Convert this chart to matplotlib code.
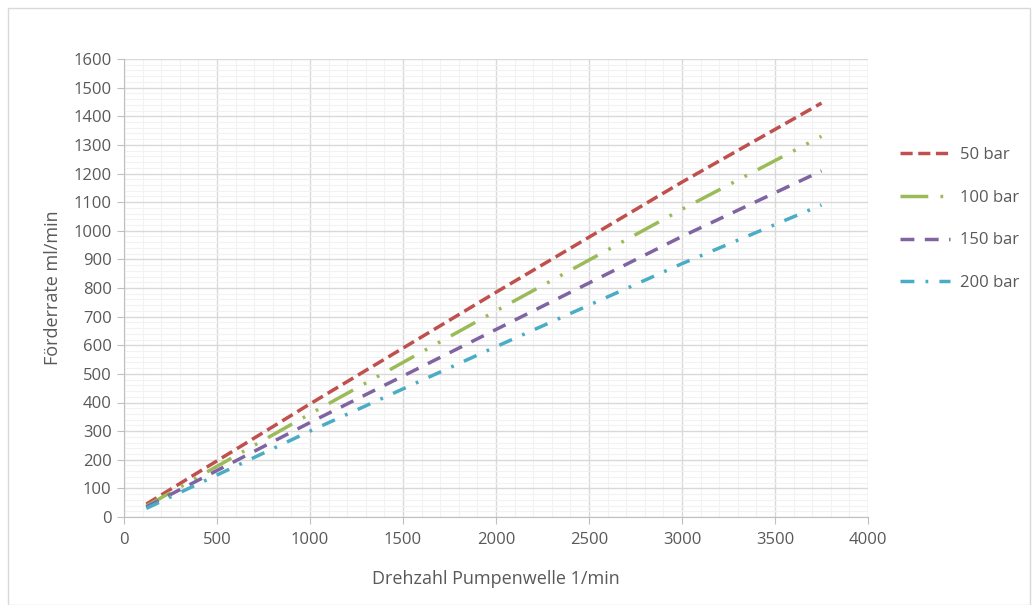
import matplotlib.pyplot as plt
from matplotlib.ticker import MultipleLocator
from matplotlib.patches import Rectangle

# Drehzahl (1/min) and Förderrate (ml/min)
drehzahl = [120, 1000, 2000, 3000, 3750]
bar50 = [45, 395, 785, 1170, 1446]
bar100 = [38, 360, 720, 1075, 1330]
bar150 = [35, 330, 655, 980, 1209]
bar200 = [30, 300, 595, 885, 1090]
labels = ['50 bar', '100 bar', '150 bar', '200 bar']

colors = ['#C0504D', '#9BBB59', '#8064A2', '#4BACC6']
styles = [(0, (3.5, 1.6)), (0, (8, 3.5, 0.8, 3.5, 0.8, 3.5)), (0, (4, 3)), (0, (4, 3.2, 0.8, 3.2))]

plt.rcParams['font.family'] = ['Open Sans', 'DejaVu Sans']
txt = '#595959'

fig = plt.figure(figsize=(10.32, 6.05), dpi=100)
ax = fig.add_axes([124/1032, 1-517/605, (868-124)/1032, (517-59)/605])

for ys, lab, c, ls in zip([bar50, bar100, bar150, bar200], labels, colors, styles):
    ax.plot(drehzahl, ys, color=c, linestyle=ls, linewidth=2.5, label=lab,
            dash_capstyle='butt')

ax.set_xlim(0, 4000)
ax.set_ylim(0, 1600)
ax.xaxis.set_major_locator(MultipleLocator(500))
ax.xaxis.set_minor_locator(MultipleLocator(100))
ax.yaxis.set_major_locator(MultipleLocator(100))
ax.yaxis.set_minor_locator(MultipleLocator(20))
ax.grid(which='major', color='#D9D9D9', linewidth=1)
ax.grid(which='minor', color='#F2F2F2', linewidth=0.8)
ax.set_axisbelow(True)
for s in ['top', 'right']:
    ax.spines[s].set_visible(False)
for s in ['left', 'bottom']:
    ax.spines[s].set_color('#BFBFBF')
ax.tick_params(which='major', colors='#BFBFBF', labelcolor=txt, labelsize=12, length=5)
ax.tick_params(which='minor', length=0)
ax.tick_params(axis='x', pad=6)
ax.tick_params(axis='y', pad=4)

ax.set_xlabel('Drehzahl Pumpenwelle 1/min', color=txt, fontsize=13, labelpad=16)
ax.set_ylabel('Förderrate ml/min', color=txt, fontsize=13, labelpad=8)

leg = fig.legend(loc='upper left', bbox_to_anchor=(885/1032, 1-132/605), frameon=False,
                 fontsize=12, labelspacing=1.6, handlelength=3.0, handletextpad=0.6)
for t in leg.get_texts():
    t.set_color(txt)

fig.patches.append(Rectangle((8/1032, 0), 1 - 10/1032, 1 - 8/605, transform=fig.transFigure,
                             fill=False, edgecolor='#D9D9D9', linewidth=1))

fig.savefig('out.png', dpi=100)
